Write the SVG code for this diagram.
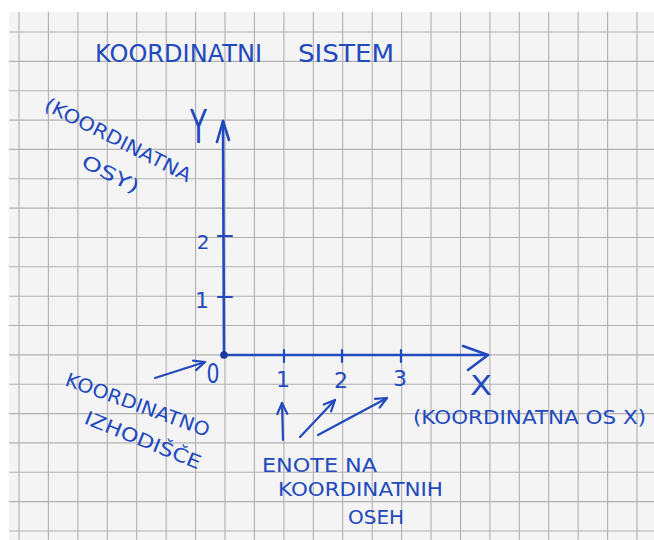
<svg xmlns="http://www.w3.org/2000/svg" width="654" height="540" viewBox="0 0 654 540">
<style>
  .grid{stroke:#b0b0b3;stroke-width:1.1;fill:none}
  .ink{fill:#2249bd;font-family:"DejaVu Sans","Liberation Sans",sans-serif}
  .line{stroke:#2249bd;stroke-width:2.2;fill:none;stroke-linecap:round;stroke-linejoin:round}
  .axis{stroke:#2249bd;stroke-width:2.6;fill:none;stroke-linecap:round;stroke-linejoin:round}
</style>
<defs>
  <marker id="head" viewBox="-15 -15 30 30" markerWidth="30" markerHeight="30" refX="0" refY="0" orient="auto" markerUnits="userSpaceOnUse" overflow="visible">
    <path d="M -11 -5 L 0 0 L -11 5" stroke="#2249bd" stroke-width="2.2" fill="none" stroke-linecap="round" stroke-linejoin="round"/>
  </marker>
</defs>
<rect width="654" height="540" fill="#ffffff"/>
<g id="paper">
  <rect x="9" y="12" width="645" height="528" fill="#f4f4f5"/>
  <path class="grid" d="M19 12V540M48.4 12V540M77.9 12V540M107.3 12V540M136.7 12V540M166.2 12V540M195.6 12V540M225 12V540M254.4 12V540M283.9 12V540M313.3 12V540M342.7 12V540M372.2 12V540M401.6 12V540M431 12V540M460.5 12V540M489.9 12V540M519.3 12V540M548.7 12V540M578.2 12V540M607.6 12V540M637 12V540"/>
  <path class="grid" d="M9 32H654M9 61.4H654M9 90.7H654M9 120.1H654M9 149.4H654M9 178.8H654M9 208.1H654M9 237.5H654M9 266.8H654M9 296.2H654M9 325.5H654M9 354.9H654M9 384.2H654M9 413.6H654M9 442.9H654M9 472.3H654M9 501.6H654M9 531H654"/>
</g>
<g id="connectors">
  <path class="axis" d="M224 355 L223 121"/>
  <path class="axis" d="M217 142 L223 121 L229 140"/>
  <path class="axis" d="M224 355 L488 355"/>
  <path class="axis" d="M463 346 L488 355 L468 370"/>
  <path class="line" d="M284 350V362M342 350V362M401 350V362"/>
  <path class="line" d="M218 236H232M218 297H232"/>
  <path class="line" d="M155 378 L205 362" marker-end="url(#head)"/>
  <path class="line" d="M283 440 L282 403" marker-end="url(#head)"/>
  <path class="line" d="M300 437 L335 400" marker-end="url(#head)"/>
  <path class="line" d="M318 435 L387 398" marker-end="url(#head)"/>
  <circle cx="224" cy="355" r="3.8" fill="#1d3a9e"/>
</g>
<g id="title">
  <text class="ink" font-size="24" y="62"><tspan x="95" textLength="167" lengthAdjust="spacingAndGlyphs">KOORDINATNI</tspan><tspan x="298" textLength="96" lengthAdjust="spacingAndGlyphs">SISTEM</tspan></text>
</g>
<g id="label-y-axis">
  <text class="ink" font-size="19" transform="translate(43,109) rotate(27)" textLength="162" lengthAdjust="spacingAndGlyphs">(KOORDINATNA</text>
  <text class="ink" font-size="19" transform="translate(80,166) rotate(27)" textLength="62" lengthAdjust="spacingAndGlyphs">OSY)</text>
</g>
<g id="label-Y">
  <text class="ink" font-size="46" x="190" y="143" textLength="17" lengthAdjust="spacingAndGlyphs">Y</text>
</g>
<g id="label-X">
  <text class="ink" font-size="27" x="470" y="395" textLength="22" lengthAdjust="spacingAndGlyphs">X</text>
</g>
<g id="y-numbers">
  <text class="ink" font-size="20" x="203" y="249" text-anchor="middle">2</text>
  <text class="ink" font-size="22" x="202" y="308" text-anchor="middle">1</text>
</g>
<g id="x-numbers">
  <text class="ink" font-size="26" x="213" y="383" text-anchor="middle" textLength="13" lengthAdjust="spacingAndGlyphs">0</text>
  <text class="ink" font-size="22" x="283" y="387" text-anchor="middle">1</text>
  <text class="ink" font-size="22" x="341" y="388" text-anchor="middle">2</text>
  <text class="ink" font-size="22" x="400" y="386" text-anchor="middle">3</text>
</g>
<g id="label-origin">
  <text class="ink" font-size="19" transform="translate(64,385) rotate(20)" textLength="152" lengthAdjust="spacingAndGlyphs">KOORDINATNO</text>
  <text class="ink" font-size="19" transform="translate(83,423) rotate(22)" textLength="124" lengthAdjust="spacingAndGlyphs">IZHODIŠČE</text>
</g>
<g id="label-x-axis">
  <text class="ink" font-size="20" x="413" y="424" textLength="233" lengthAdjust="spacingAndGlyphs">(KOORDINATNA OS X)</text>
</g>
<g id="label-units">
  <text class="ink" font-size="19" x="262" y="472" textLength="115" lengthAdjust="spacingAndGlyphs">ENOTE NA</text>
  <text class="ink" font-size="19" x="278" y="496" textLength="165" lengthAdjust="spacingAndGlyphs">KOORDINATNIH</text>
  <text class="ink" font-size="19" x="348" y="524" textLength="56" lengthAdjust="spacingAndGlyphs">OSEH</text>
</g>
</svg>
